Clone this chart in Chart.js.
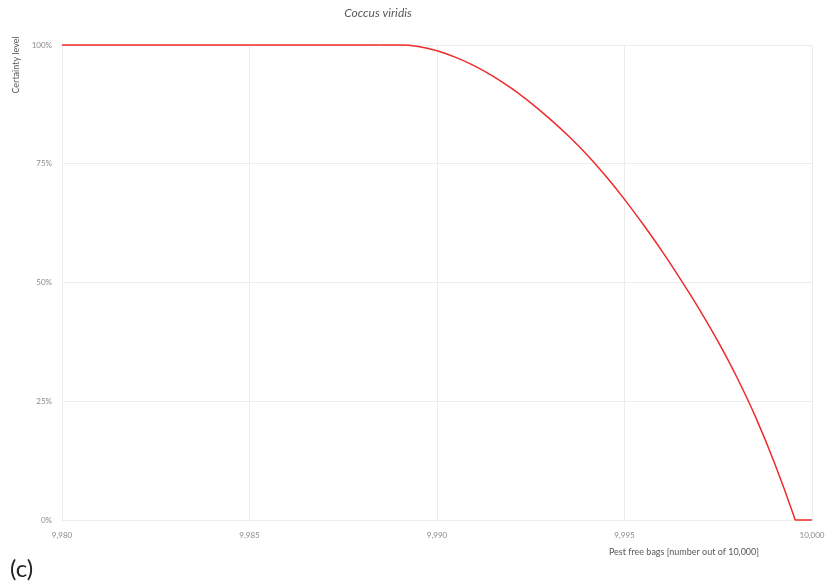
<!DOCTYPE html>
<html>
<head>
<meta charset="utf-8">
<script src="https://cdn.jsdelivr.net/npm/chart.js@4/dist/chart.umd.min.js"></script>
<style>
  html, body { margin: 0; padding: 0; background: #fff; }
  #wrap { width: 825px; height: 583px; position: relative; }
</style>
</head>
<body>
<div id="wrap"><canvas id="chart"></canvas></div>
<script>
// values
// flat part at 100%
const headBags = [9980, 9985, 9988.5];
const headCertainty = [100, 100, 100];
// falling part
const curveBags = [9988.5, 9989, 9989.5, 9990, 9990.5, 9991, 9991.5, 9992, 9992.5, 9993,
  9993.5, 9994, 9994.5, 9995, 9995.5, 9996, 9996.5, 9997, 9997.5, 9998, 9998.5, 9999, 9999.5, 9999.55];
const curveCertainty = [100, 100, 99.7, 98.8, 97.4, 95.6, 93.4, 90.8, 87.8, 84.5,
  80.9, 76.9, 72.4, 67.5, 62.2, 56.6, 50.6, 44.3, 37.5, 30.0, 21.6, 12.0, 1.2, 0];
// flat part at 0%
const tailBags = [9999.55, 10000];
const tailCertainty = [0, 0];

const xTicks = [9980, 9985, 9990, 9995, 10000];
const yTicks = [0, 25, 50, 75, 100];

const chartTitle = 'Coccus viridis';
const yTitle = 'Certainty level';
const xTitle = 'Pest free bags [number out of 10,000]';
const panelTag = '(c)';

const FONT = 'Lato, "Open Sans", sans-serif';
const RED = '#ee2b2b';

const textPlugin = {
  id: 'texts',
  afterDraw(chart) {
    const c = chart.ctx;
    c.save();
    c.fillStyle = '#595959';
    c.textAlign = 'center';
    c.textBaseline = 'middle';
    c.font = 'italic 12px ' + FONT;
    c.fillText(chartTitle, 378, 13);

    c.font = '9px ' + FONT;
    c.fillText(xTitle, 684, 552);

    c.save();
    c.translate(16, 65);
    c.rotate(-Math.PI / 2);
    c.fillText(yTitle, 0, 0);
    c.restore();

    c.fillStyle = '#222';
    c.font = '24px ' + FONT;
    c.textAlign = 'left';
    c.fillText(panelTag, 10, 569);
    c.restore();
  }
};

function series(xs, ys) {
  return {
    data: xs.map((x, i) => ({ x: x, y: ys[i] })),
    borderColor: RED,
    borderWidth: 1.5,
    pointRadius: 0,
    cubicInterpolationMode: 'monotone',
    fill: false,
    clip: false,
  };
}

new Chart(document.getElementById('chart'), {
  type: 'line',
  data: {
    datasets: [
      series(headBags, headCertainty),
      series(curveBags, curveCertainty),
      series(tailBags, tailCertainty),
    ]
  },
  options: {
    responsive: true,
    maintainAspectRatio: false,
    animation: false,
    layout: { padding: { top: 45, right: 13, left: 0, bottom: 0 } },
    plugins: { legend: { display: false }, tooltip: { enabled: false } },
    scales: {
      x: {
        type: 'linear',
        min: 9980,
        max: 10000,
        afterBuildTicks: s => { s.ticks = xTicks.map(v => ({ value: v })); },
        afterFit: s => { s.height = 63; s.paddingLeft = 0; s.paddingRight = 0; },
        grid: { color: '#ececec', drawTicks: false },
        border: { display: false },
        ticks: {
          color: '#8a8a8a',
          font: { family: FONT, size: 8 },
          padding: 11,
          maxRotation: 0,
          callback: v => v.toLocaleString('en-US')
        }
      },
      y: {
        min: 0,
        max: 100,
        afterBuildTicks: s => { s.ticks = yTicks.map(v => ({ value: v })); },
        afterFit: s => { s.width = 62; s.paddingTop = 0; s.paddingBottom = 0; },
        grid: { color: '#ececec', drawTicks: false },
        border: { display: false },
        ticks: {
          color: '#8a8a8a',
          font: { family: FONT, size: 8 },
          padding: 10,
          callback: v => v + '%'
        }
      }
    }
  },
  plugins: [textPlugin]
});
</script>
</body>
</html>
